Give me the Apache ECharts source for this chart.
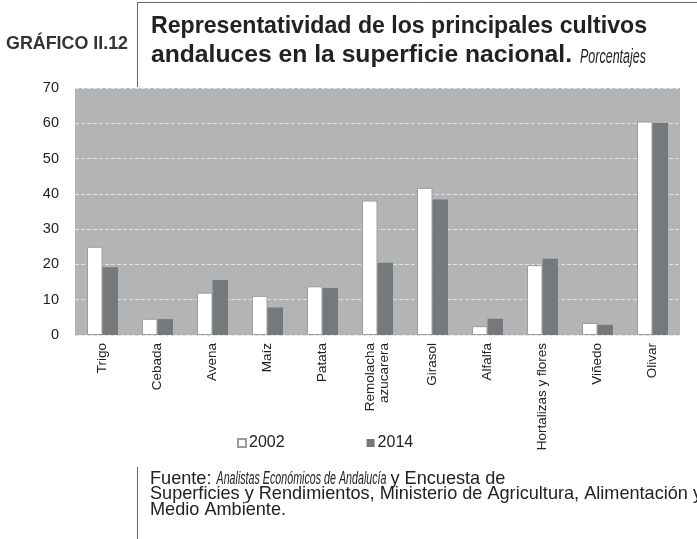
<!DOCTYPE html>
<html>
<head>
<meta charset="utf-8">
<script src="https://cdn.jsdelivr.net/npm/echarts@6/dist/echarts.min.js"></script>
<style>
  html, body { margin: 0; padding: 0; background: #fff; }
  #chart { width: 697px; height: 539px; }
</style>
</head>
<body>
<div id="chart"></div>
<script>
// categories and values (percent of national surface)
const categories = ['Trigo', 'Cebada', 'Avena', 'Maíz', 'Patata', 'Remolacha\nazucarera',
  'Girasol', 'Alfalfa', 'Hortalizas y flores', 'Viñedo', 'Olivar'];
const values2002 = [25, 4.6, 12, 11.1, 13.8, 38.1, 41.7, 2.5, 19.8, 3.4, 60.5];
const values2014 = [19.2, 4.5, 15.6, 7.8, 13.3, 20.5, 38.4, 4.6, 21.6, 2.9, 60.1];
const seriesNames = ['2002', '2014'];
const yMin = 0, yMax = 70, yStep = 10;

const FONT = '"Liberation Sans", Arial, sans-serif';

// squeeze a text horizontally so it spans the given width (the original uses condensed faces)
const ctx = document.createElement('canvas').getContext('2d');
function measure(text, font) {
  ctx.font = font;
  return ctx.measureText(text).width;
}

function label(text, x, baseline, size, weight, style, scale, color) {
  const font = style + ' ' + weight + ' ' + size + 'px ' + FONT;
  return {
    type: 'text',
    x: x,
    y: baseline - 0.35 * size,
    scaleX: scale,
    style: {
      text: text,
      font: font,
      fill: color || '#222',
      align: 'left',
      verticalAlign: 'middle'
    }
  };
}
function fitted(text, x, baseline, size, weight, style, width, color) {
  const s = width / measure(text, style + ' ' + weight + ' ' + size + 'px ' + FONT);
  return label(text, x, baseline, size, weight, style, s, color);
}

// source note: one squeeze for the upright text, taken from the long second line
const footSize = 19;
const footFont = 'normal normal ' + footSize + 'px ' + FONT;
const foot2 = 'Superficies y Rendimientos, Ministerio de Agricultura, Alimentación y';
const footScale = 552 / measure(foot2, footFont);
const srcName = 'Analistas Económicos de Andalucía';
const srcX = 150 + measure('Fuente: ', footFont) * footScale;
const srcW = 170;

const chart = echarts.init(document.getElementById('chart'));

chart.setOption({
  backgroundColor: '#fff',
  animation: false,
  textStyle: { fontFamily: FONT },
  grid: {
    left: 75,
    right: 17,
    top: 88,
    bottom: 204,
    show: true,
    backgroundColor: '#b3b4b6',
    borderWidth: 0
  },
  legend: {
    data: seriesNames,
    left: 237,
    top: 435,
    padding: 0,
    itemWidth: 8,
    itemHeight: 8,
    itemGap: 82,
    icon: 'rect',
    textStyle: { fontSize: 16, color: '#222', padding: [0, 0, 0, -2] }
  },
  xAxis: {
    type: 'category',
    data: categories,
    axisLine: { show: false },
    axisTick: { show: false },
    axisLabel: {
      interval: 0,
      rotate: 90,
      margin: 8,
      fontSize: 13.5,
      lineHeight: 14,
      color: '#222'
    }
  },
  yAxis: {
    type: 'value',
    min: yMin,
    max: yMax,
    interval: yStep,
    axisLine: { show: false },
    axisTick: { show: false },
    axisLabel: { fontSize: 14.5, color: '#222', margin: 16 },
    splitLine: {
      show: true,
      lineStyle: { color: '#e2e2e2', width: 1, type: [4, 2] }
    }
  },
  series: [
    {
      name: seriesNames[0],
      type: 'bar',
      data: values2002,
      barWidth: 15.5,
      barGap: '0%',
      itemStyle: { color: '#ffffff', borderColor: '#9c9c9c', borderWidth: 1 }
    },
    {
      name: seriesNames[1],
      type: 'bar',
      data: values2014,
      barWidth: 15.5,
      itemStyle: { color: '#76797b' }
    }
  ],
  graphic: [
    // title box
    { type: 'line', shape: { x1: 137.5, y1: 2.5, x2: 697, y2: 2.5 }, style: { stroke: '#666', lineWidth: 1 } },
    { type: 'line', shape: { x1: 137.5, y1: 2.5, x2: 137.5, y2: 87 }, style: { stroke: '#666', lineWidth: 1 } },
    fitted('GRÁFICO II.12', 6, 50, 17.5, 'bold', 'normal', 122, '#333'),
    fitted('Representatividad de los principales cultivos', 151, 35, 24, 'bold', 'normal', 496),
    fitted('andaluces en la superficie nacional.', 151, 64, 24, 'bold', 'normal', 421),
    fitted('Porcentajes', 580, 64, 20, 'normal', 'italic', 66),
    // source note
    { type: 'line', shape: { x1: 137.5, y1: 467, x2: 137.5, y2: 539 }, style: { stroke: '#666', lineWidth: 1 } },
    label('Fuente:', 150, 485, footSize, 'normal', 'normal', footScale),
    fitted(srcName, srcX, 485, footSize, 'normal', 'italic', srcW),
    label('y Encuesta de', srcX + srcW + 4, 485, footSize, 'normal', 'normal', footScale),
    label(foot2, 150, 500.5, footSize, 'normal', 'normal', footScale),
    label('Medio Ambiente.', 150, 516, footSize, 'normal', 'normal', footScale)
  ]
});
</script>
</body>
</html>
